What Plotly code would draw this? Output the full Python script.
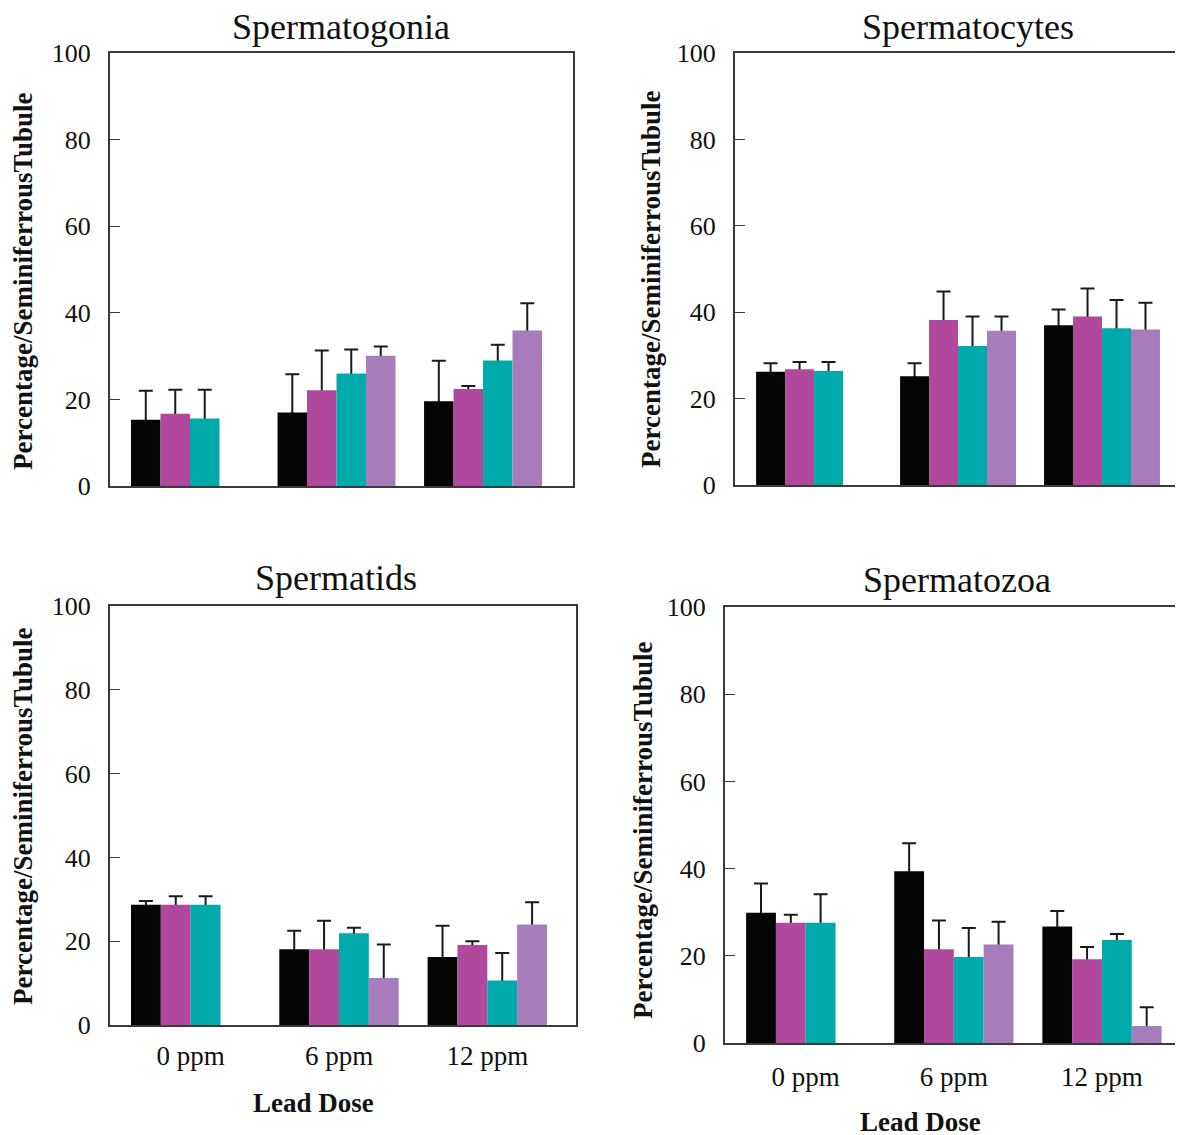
import plotly.graph_objects as go

W, H = 1183, 1135
FONT = "Liberation Serif"
SHIFT = 8  # page body margin offset (px)

doses = ["0 ppm", "6 ppm", "12 ppm"]
series_names = ["Group 1", "Group 2", "Group 3", "Group 4"]
colors = ["#050505", "#b0489e", "#00aaab", "#a77cba"]

# Spermatogonia
sg_black = [15.3, 17.0, 19.6]
sg_black_err = [6.7, 8.8, 9.3]
sg_mag = [16.7, 22.1, 22.4]
sg_mag_err = [5.5, 9.2, 0.7]
sg_teal = [15.6, 26.0, 29.0]
sg_teal_err = [6.6, 5.5, 3.6]
sg_purp = [None, 30.1, 35.9]
sg_purp_err = [None, 2.1, 6.3]

# Spermatocytes
sc_black = [26.2, 25.2, 37.0]
sc_black_err = [2.0, 3.0, 3.6]
sc_mag = [26.8, 38.2, 39.0]
sc_mag_err = [1.7, 6.6, 6.5]
sc_teal = [26.4, 32.2, 36.3]
sc_teal_err = [2.1, 6.8, 6.5]
sc_purp = [None, 35.7, 36.0]
sc_purp_err = [None, 3.3, 6.2]

# Spermatids
st_black = [28.7, 18.1, 16.2]
st_black_err = [0.9, 4.4, 7.5]
st_mag = [28.7, 18.1, 19.1]
st_mag_err = [2.0, 6.8, 0.9]
st_teal = [28.7, 21.9, 10.6]
st_teal_err = [2.0, 1.3, 6.6]
st_purp = [None, 11.2, 24.0]
st_purp_err = [None, 8.0, 5.3]

# Spermatozoa
sz_black = [29.9, 39.4, 26.7]
sz_black_err = [6.7, 6.4, 3.6]
sz_mag = [27.6, 21.5, 19.2]
sz_mag_err = [1.8, 6.6, 2.8]
sz_teal = [27.6, 19.7, 23.6]
sz_teal_err = [6.5, 6.7, 1.4]
sz_purp = [None, 22.6, 3.9]
sz_purp_err = [None, 5.2, 4.3]

y_ticks = [0, 20, 40, 60, 80, 100]
y_title = "Percentage/SeminiferrousTubule"
x_title = "Lead Dose"

# positions in reference-picture pixels
panels = [
    dict(title="Spermatogonia",
         vals=[sg_black, sg_mag, sg_teal, sg_purp],
         errs=[sg_black_err, sg_mag_err, sg_teal_err, sg_purp_err],
         px=(110, 573), py=(53, 486), xr=(-0.546, 2.614), box=True, xlabels=False,
         tpos=(341, 27), ytpos=(23, 281), xtpos=None, stand=6),
    dict(title="Spermatocytes",
         vals=[sc_black, sc_mag, sc_teal, sc_purp],
         errs=[sc_black_err, sc_mag_err, sc_teal_err, sc_purp_err],
         px=(735, None), py=(53, 485), xr=(-0.549, 2.618), box=False, xlabels=False,
         tpos=(968, 27), ytpos=(651, 279), xtpos=None, stand=6),
    dict(title="Spermatids",
         vals=[st_black, st_mag, st_teal, st_purp],
         errs=[st_black_err, st_mag_err, st_teal_err, st_purp_err],
         px=(110, 576), py=(606, 1025), xr=(-0.544, 2.598), box=True, xlabels=True,
         tpos=(336, 578), ytpos=(23, 816), xtpos=(313, 1103), stand=6),
    dict(title="Spermatozoa",
         vals=[sz_black, sz_mag, sz_teal, sz_purp],
         errs=[sz_black_err, sz_mag_err, sz_teal_err, sz_purp_err],
         px=(725, None), py=(607, 1043), xr=(-0.545, 2.601), box=False, xlabels=True,
         tpos=(957, 580), ytpos=(643, 830), xtpos=(920, 1122), stand=9),
]


def fx(x):
    return (x - SHIFT) / W


def fy(y):
    return 1 - (y - SHIFT) / H


fig = go.Figure()
layout = dict(
    width=W, height=H, margin=dict(l=0, r=0, t=0, b=0, pad=0, autoexpand=False),
    paper_bgcolor="white", plot_bgcolor="white",
    showlegend=False, barmode="group", bargap=0.195, bargroupgap=0,
    font=dict(family=FONT, color="#111111"),
    annotations=[],
)

AX = "#3a3a3a"
for i, p in enumerate(panels):
    n = "" if i == 0 else str(i + 1)
    on = str(i + 5)
    xa, ya, yo = "x" + n, "y" + n, "y" + on
    # error bars (drawn on the base subplot, behind the coloured bars)
    for s in range(4):
        fig.add_trace(go.Bar(
            x=doses, y=p["vals"][s], name=series_names[s],
            marker=dict(color="rgba(0,0,0,0)", line=dict(width=0)),
            error_y=dict(type="data", array=p["errs"][s], symmetric=False,
                         arrayminus=p["vals"][s], color="#1a1a1a", thickness=2, width=7),
            xaxis=xa, yaxis=ya, hoverinfo="skip",
        ))
    # coloured bars on an overlaying axis, drawn on top
    for s in range(4):
        fig.add_trace(go.Bar(
            x=doses, y=p["vals"][s], name=series_names[s],
            marker=dict(color=colors[s], line=dict(width=0)),
            xaxis=xa, yaxis=yo,
        ))
    x0, x1 = p["px"]
    ytop, ybot = p["py"]
    d1 = 1.0 if x1 is None else fx(x1)
    ydom = [fy(ybot), fy(ytop)]
    layout["xaxis" + n] = dict(
        domain=[fx(x0), d1], anchor=ya, range=list(p["xr"]), automargin=False,
        type="category", showline=True, linecolor=AX, linewidth=2,
        mirror=True, ticks="", showgrid=False, zeroline=False,
        showticklabels=p["xlabels"], ticklabelstandoff=p["stand"],
        tickfont=dict(family=FONT, size=27, color="#111111"),
    )
    layout["yaxis" + n] = dict(
        domain=ydom, anchor=xa, range=[0, 100], automargin=False,
        tickvals=y_ticks, ticks="inside", ticklen=10, tickcolor=AX, tickwidth=1,
        showline=True, linecolor=AX, linewidth=2, mirror=p["box"],
        showgrid=False, zeroline=False, ticklabelstandoff=12,
        tickfont=dict(family=FONT, size=26, color="#111111"),
    )
    layout["yaxis" + on] = dict(
        domain=ydom, anchor=xa, overlaying=ya, range=[0, 100], automargin=False,
        visible=False, showgrid=False, zeroline=False,
    )
    layout["annotations"].append(dict(
        text=p["title"], x=fx(p["tpos"][0]), y=fy(p["tpos"][1]),
        xref="paper", yref="paper", xanchor="center", yanchor="middle",
        showarrow=False, font=dict(family=FONT, size=36, color="#111111")))
    layout["annotations"].append(dict(
        text="<b>" + y_title + "</b>", x=fx(p["ytpos"][0]), y=fy(p["ytpos"][1]),
        xref="paper", yref="paper", xanchor="center", yanchor="middle",
        textangle=-90, showarrow=False,
        font=dict(family=FONT, size=27, color="#111111")))
    if p["xtpos"]:
        layout["annotations"].append(dict(
            text="<b>" + x_title + "</b>", x=fx(p["xtpos"][0]), y=fy(p["xtpos"][1]),
            xref="paper", yref="paper", xanchor="center", yanchor="middle",
            showarrow=False, font=dict(family=FONT, size=27, color="#111111")))

fig.update_layout(**layout)
fig.write_html("out.html")
